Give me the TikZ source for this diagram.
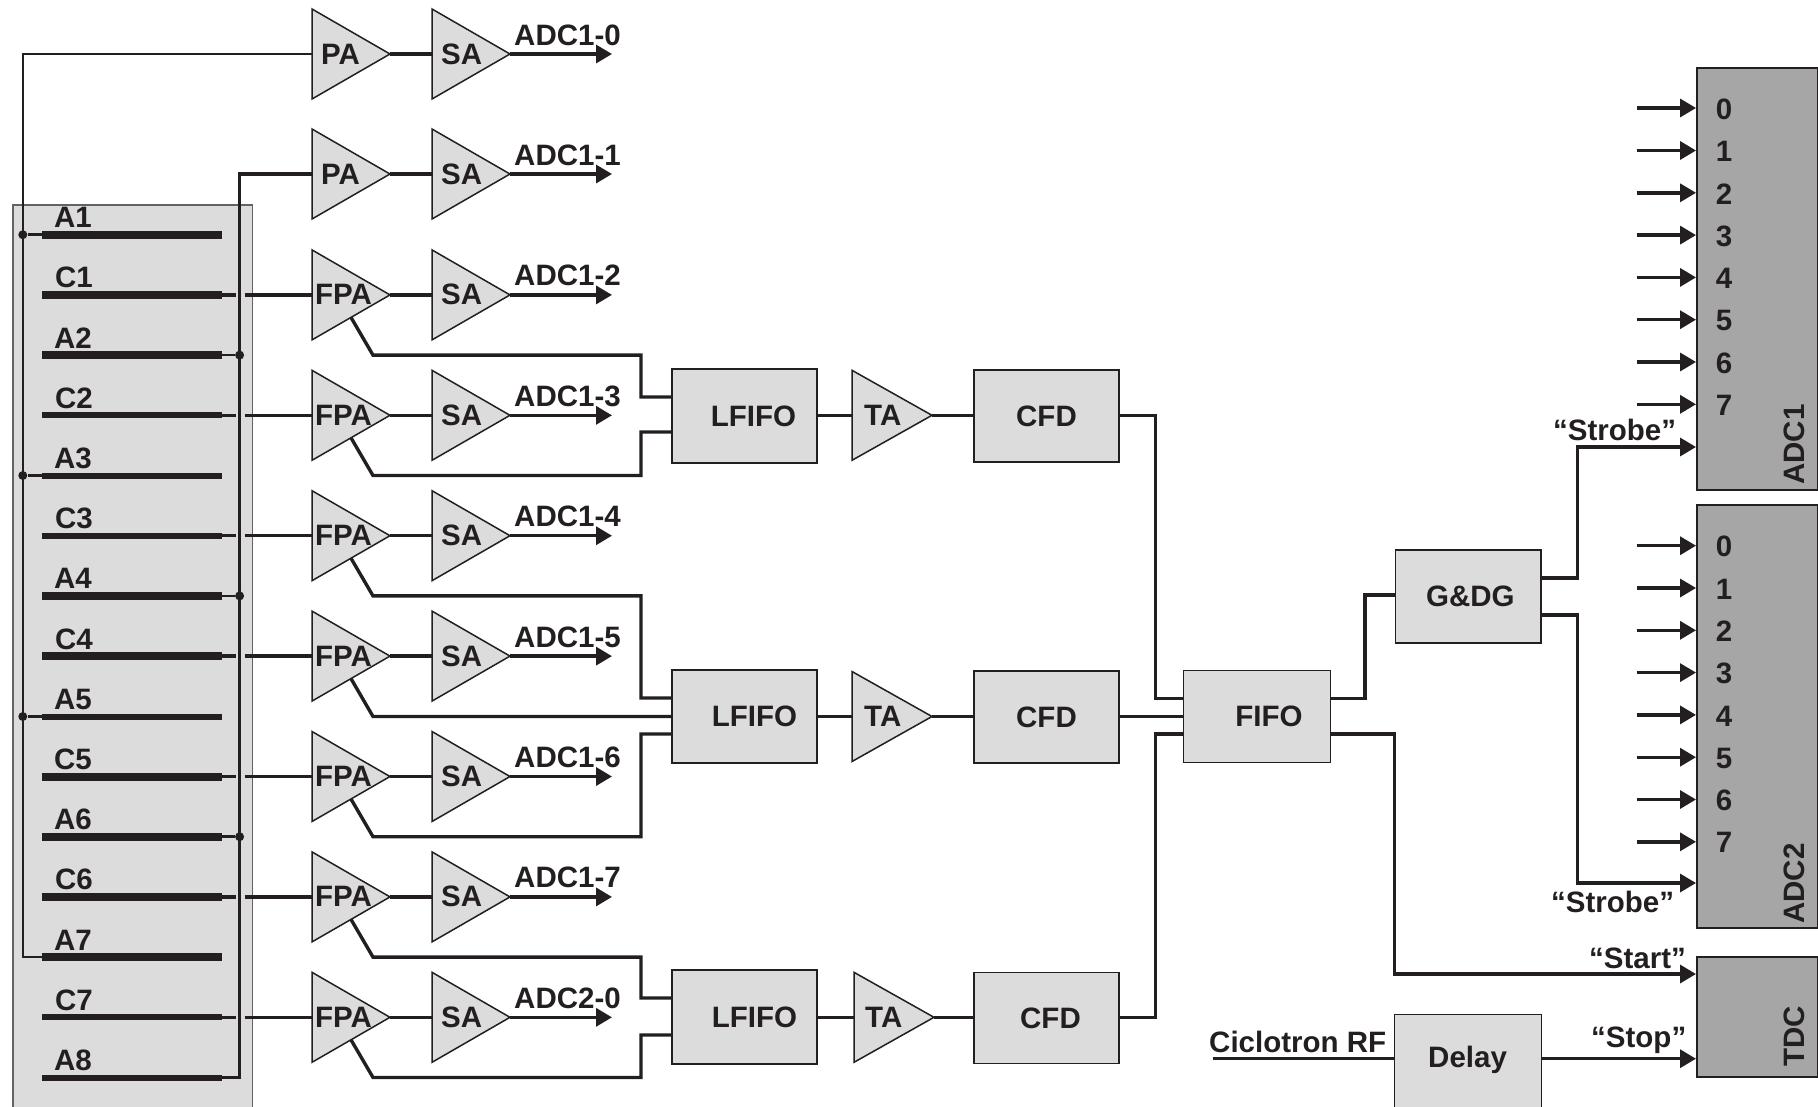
\documentclass[tikz,border=0pt]{standalone}
\usepackage{fontspec}
\setmainfont{Liberation Sans}
\usetikzlibrary{shapes.geometric,arrows.meta}
\definecolor{ink}{HTML}{231F20}
\definecolor{lite}{HTML}{DCDCDC}
\definecolor{dark}{HTML}{A6A6A6}
\tikzset{
  txt/.style={font=\fontsize{29.5}{31}\selectfont\bfseries,text=ink,inner sep=0pt},
  lab/.style={txt,anchor=base west},
  amp/.style={isosceles triangle,isosceles triangle stretches,shape border rotate=0,
     minimum width=90pt,minimum height=78pt,inner sep=0pt,outer sep=0pt,draw=ink,fill=lite,line width=1.5pt,anchor=lower side},
  tamp/.style={amp,minimum width=90pt,minimum height=80pt},
  blk/.style={rectangle,txt,draw=ink,fill=lite,line width=1.2pt,inner sep=0pt},
  adc/.style={rectangle,draw=ink,fill=dark,line width=1.5pt,inner sep=0pt},
  barthick/.style={rectangle,fill=ink,minimum width=180pt,minimum height=8pt,inner sep=0pt},
  barthin/.style={rectangle,fill=ink,minimum width=180pt,minimum height=6pt,inner sep=0pt},
  wire/.style={draw=ink,line width=3.4pt,line join=miter},
  thinwire/.style={draw=ink,line width=2.6pt},
  arr/.style={wire,-{Triangle[length=16pt,width=18pt]}},
  jdot/.style={circle,fill=ink,minimum size=9pt,inner sep=0pt},
}
\begin{document}
\begin{tikzpicture}[x=1pt,y=-1pt]
\useasboundingbox (0,0) rectangle (1818,1106);
\clip (0,0) rectangle (1818,1106);

% detector panel
\node[rectangle,draw=ink!70,fill=lite,line width=1.5pt,minimum width=239.3pt,minimum height=910pt,anchor=north west,inner sep=0pt] (panel) at (12.4,204) {};

% strips
\foreach \n/\y/\st/\lx in {A1/234.7/barthick/54,C1/294.9/barthick/55,A2/355.1/barthick/54,C2/415.3/barthin/55,
  A3/475.5/barthin/54,C3/535.7/barthin/55,A4/595.9/barthick/54,C4/656.1/barthick/55,A5/716.5/barthin/54,
  C5/776.5/barthick/54,A6/836.7/barthick/54,C6/896.9/barthick/55,A7/957.1/barthick/54,C7/1017.3/barthin/55,A8/1077.5/barthin/54}{
  \node[\st] (\n) at (132.2,\y) {};
  \node[lab] (l\n) at (\lx,\y-7) {\n};
}

% PA amplifiers
\foreach \k/\y in {0/54,1/174}{
  \node[amp] (fa\k) at (312,\y) {};
  \node[lab] (tfa\k) at (321,\y+10) {PA};
}
% FPA amplifiers
\foreach \k/\y in {2/294.9,3/415.3,4/535.7,5/656.1,6/776.5,7/896.9,8/1017.3}{
  \node[amp] (fa\k) at (312,\y) {};
  \node[lab] (tfa\k) at (315,\y+10) {FPA};
}
% shaper amplifiers and outputs
\foreach \k/\y/\lab in {0/54/ADC1-0,1/174/ADC1-1,2/294.9/ADC1-2,3/415.3/ADC1-3,4/535.7/ADC1-4,5/656.1/ADC1-5,6/776.5/ADC1-6,7/896.9/ADC1-7,8/1017.3/ADC2-0}{
  \node[amp] (sa\k) at (432,\y) {};
  \node[lab] (tsa\k) at (441,\y+10) {SA};
  \coordinate (out\k) at (612,\y);
  \node[lab] (lout\k) at (514,\y-9) {\lab};
  \draw[wire] (fa\k.apex) -- (sa\k.lower side);
  \draw[arr] (sa\k.apex) -- (out\k);
}

% LFIFO, TA, CFD, FIFO, G&DG, Delay
\node[blk,minimum width=145pt,minimum height=94pt] (lf1) at (744.5,416) {\hspace*{18pt}LFIFO};
\node[blk,minimum width=145pt,minimum height=93pt] (lf2) at (744.5,716.5) {\hspace*{20pt}LFIFO};
\node[blk,minimum width=145pt,minimum height=94pt] (lf3) at (744.5,1017) {\hspace*{20pt}LFIFO};
\node[tamp] (ta1) at (852,415.3) {};
\node[lab] (tta1) at (864,425.3) {TA};
\node[tamp] (ta2) at (852,716.5) {};
\node[lab] (tta2) at (864,726.5) {TA};
\node[tamp] (ta3) at (854,1017.3) {};
\node[lab] (tta3) at (865,1027.3) {TA};
\node[blk,minimum width=145pt,minimum height=92pt] (cfd1) at (1046.5,416) {CFD};
\node[blk,minimum width=145pt,minimum height=92pt] (cfd2) at (1046.5,717) {CFD};
\node[blk,minimum width=145pt,minimum height=91pt] (cfd3) at (1046.5,1018) {\hspace*{8pt}CFD};
\node[blk,minimum width=146.5pt,minimum height=92pt] (fifo) at (1257,716.5) {\hspace*{24pt}FIFO};
\node[blk,minimum width=145.5pt,minimum height=93pt] (gdg) at (1468.3,596.5) {\hspace*{4pt}G\&DG};
\node[blk,minimum width=147.5pt,minimum height=94pt,anchor=north west] (dly) at (1393.6,1014) {};
\node[lab] (tdly) at (1428,1067.5) {Delay};

% ADC and TDC modules
\node[adc,minimum width=121pt,minimum height=422pt,anchor=north west] (adc1) at (1696,67) {};
\node[adc,minimum width=121pt,minimum height=423pt,anchor=north west] (adc2) at (1696,504) {};
\node[adc,minimum width=121pt,minimum height=120pt,anchor=north west] (tdc) at (1696,956) {};
\node[txt,rotate=90,anchor=base west] (tadc1) at (1804,485) {ADC1};
\node[txt,rotate=90,anchor=base west] (tadc2) at (1804,924) {ADC2};
\node[txt,rotate=90,anchor=base west] (ttdc) at (1804,1067) {TDC};

% digital inputs
\foreach \d/\y in {0/108,1/150.5,2/192.8,3/235.1,4/277.4,5/319.7,6/362,7/404.3}{
  \coordinate (ia\d) at (1636.5,\y);
  \coordinate (pa\d) at (1696,\y);
  \draw[arr] (ia\d) -- (pa\d);
  \node[txt] (da\d) at (1724,\y+1) {\d};
}
\foreach \d/\y in {0/545.7,1/588,2/630.3,3/672.6,4/714.9,5/757.2,6/799.5,7/841.8}{
  \coordinate (ib\d) at (1636.5,\y);
  \coordinate (pb\d) at (1696,\y);
  \draw[arr] (ib\d) -- (pb\d);
  \node[txt] (db\d) at (1724,\y+1) {\d};
}

% panel bus lines
\coordinate (lbtop) at (22.8,54);
\coordinate (rbtop) at (239.6,174);
\draw[thinwire] (fa0.lower side) -- (lbtop) |- (A7.west);
\draw[wire,line width=3.6pt] (fa1.lower side) -- (rbtop) |- (A8.east);
\foreach \n in {A1,A3,A5}{
  \node[jdot] (j\n) at (22.8,0 |- \n.west) {};
  \draw[thinwire] (\n.west) -- (j\n);
}
\foreach \n in {A2,A4,A6}{
  \node[jdot] (j\n) at (239.6,0 |- \n.east) {};
  \draw[thinwire] (\n.east) -- (j\n);
}
% cathode strips to FPAs, broken where they cross the bus
\foreach \n/\k in {C1/2,C2/3,C3/4,C4/5,C5/6,C6/7,C7/8}{
  \coordinate (g\n a) at (235.5,0 |- \n.east);
  \coordinate (g\n b) at (244.6,0 |- \n.east);
  \draw[wire] (\n.east) -- (g\n a);
  \draw[wire] (g\n b) -- (fa\k.lower side);
}

% FPA fast outputs to LFIFOs
\foreach \k/\y in {2/355.1,3/475.5,4/595.9,5/716.5,6/836.7,7/957.1,8/1077.5}{
  \coordinate (fb\k) at (373,\y);
}
\coordinate (lf1a) at (lf1.west |- 0,397);
\coordinate (lf1b) at (lf1.west |- 0,432);
\coordinate (lf2a) at (lf2.west |- 0,698);
\coordinate (lf2c) at (lf2.west |- 0,734);
\coordinate (lf3a) at (lf3.west |- 0,998);
\coordinate (lf3b) at (lf3.west |- 0,1035);
\coordinate (vx) at (641,0);
\draw[wire] (fa2.right side) -- (fb2) -| (vx |- lf1a) -- (lf1a);
\draw[wire] (fa3.right side) -- (fb3) -| (vx |- lf1b) -- (lf1b);
\draw[wire] (fa4.right side) -- (fb4) -| (vx |- lf2a) -- (lf2a);
\draw[wire] (fa5.right side) -- (fb5) -- (lf2.west |- fb5);
\draw[wire] (fa6.right side) -- (fb6) -| (vx |- lf2c) -- (lf2c);
\draw[wire] (fa7.right side) -- (fb7) -| (vx |- lf3a) -- (lf3a);
\draw[wire] (fa8.right side) -- (fb8) -| (vx |- lf3b) -- (lf3b);

% timing chains
\foreach \i/\y in {1/415.3,2/716.5,3/1017.3}{
  \coordinate (lo\i) at (lf\i.east |- 0,\y);
  \coordinate (co\i) at (cfd\i.east |- 0,\y);
  \coordinate (ci\i) at (cfd\i.west |- 0,\y);
  \draw[wire] (lo\i) -- (ta\i.lower side);
  \draw[wire] (ta\i.apex) -- (ci\i);
}
\coordinate (fi1) at (fifo.west |- 0,698.5);
\coordinate (fi2) at (fifo.west |- 0,716.5);
\coordinate (fi3) at (fifo.west |- 0,734);
\draw[wire] (co1) -- ++(36,0) |- (fi1);
\draw[wire] (co2) -- (fi2);
\draw[wire] (co3) -- ++(36,0) |- (fi3);

% FIFO and gate outputs
\coordinate (fo1) at (fifo.east |- 0,698.5);
\coordinate (fo2) at (fifo.east |- 0,734);
\coordinate (gi) at (gdg.west |- 0,595);
\coordinate (go1) at (gdg.east |- 0,578);
\coordinate (go2) at (gdg.east |- 0,615);
\coordinate (s1) at (adc1.west |- 0,447);
\coordinate (s2) at (adc2.west |- 0,883);
\coordinate (st) at (tdc.west |- 0,974);
\coordinate (sp) at (tdc.west |- 0,1058.7);
\coordinate (rfin) at (1212.5,1058.7);
\coordinate (dlyin) at (dly.west |- 0,1058.7);
\coordinate (dlyout) at (dly.east |- 0,1058.7);
\draw[wire] (fo1) -- ++(34,0) |- (gi);
\draw[arr] (go1) -- ++(35.7,0) |- (s1);
\draw[arr] (go2) -- ++(35.7,0) |- (s2);
\draw[arr] (fo2) -- ++(63.5,0) |- (st);
\draw[wire] (rfin) -- (dlyin);
\draw[arr] (dlyout) -- (sp);

% signal labels
\node[lab] (tstr1) at (1553,440) {“Strobe”};
\node[lab] (tstr2) at (1551,912) {“Strobe”};
\node[lab] (tstart) at (1589,968) {“Start”};
\node[lab] (tstop) at (1591,1047) {“Stop”};
\node[lab] (trf) at (1209,1052) {Ciclotron RF};
\end{tikzpicture}
\end{document}
